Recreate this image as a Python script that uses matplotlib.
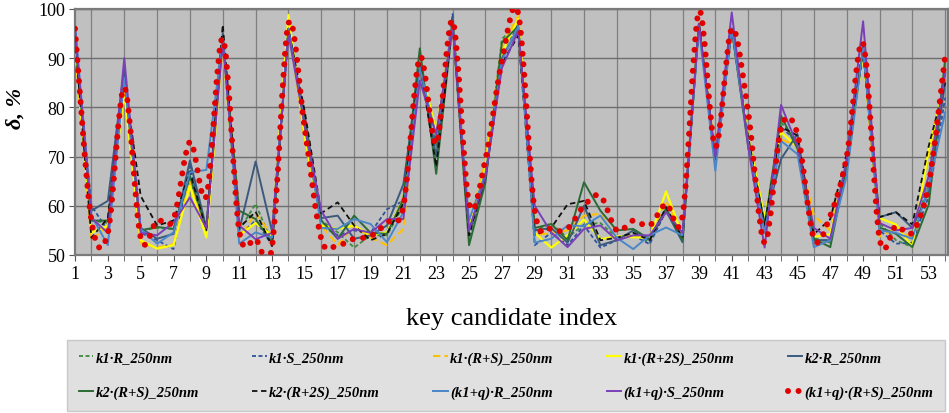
import numpy as np
import matplotlib
matplotlib.use("Agg")
import matplotlib.pyplot as plt
from matplotlib.path import Path
from matplotlib.patches import PathPatch
from matplotlib.lines import Line2D

plt.rcParams['font.family'] = ['Liberation Serif', 'DejaVu Serif']

idx = list(range(1, 55))
y_ticks = [50, 60, 70, 80, 90, 100]
x_tick_labels = list(range(1, 54, 2))

labels = ["k1·R_250nm", "k1·S_250nm", "k1·(R+S)_250nm", "k1·(R+2S)_250nm", "k2·R_250nm",
          "k2·(R+S)_250nm", "k2·(R+2S)_250nm", "(k1+q)·R_250nm", "(k1+q)·S_250nm",
          "(k1+q)·(R+S)_250nm"]

k1_R = [94, 57, 56.5, 86, 55, 55.5, 55.3, 65.5, 55, 93, 55, 60.4, 52.5, 96, 76, 57, 54.6, 51.5, 54, 54,
        60, 89, 72, 97, 53, 66, 93.9, 97, 55, 56.4, 53.5, 56.2, 56.5, 53.5, 54.5, 52.5, 59, 53.5, 97, 69.5,
        96, 73, 55, 77, 73, 53.5, 52.5, 68.5, 92, 56.5, 53, 51.6, 66, 88]
k1_S = [95, 60, 55, 86, 54.5, 53, 51.2, 68, 55, 94, 54, 57, 52, 96, 76, 56, 54, 55, 54.5, 59.3,
        61, 88, 73, 99, 54, 67, 91, 97, 52, 54.5, 52, 56, 51.5, 53, 54, 52.2, 59, 53, 97, 69.5,
        96, 73, 55, 76, 73, 53, 53, 68.5, 93, 55, 52.3, 52.5, 62, 82]
k1_RS = [92, 53, 56, 84, 52.5, 51.5, 52.2, 65, 54.5, 93, 53.5, 58.5, 54, 97, 73, 56, 52, 56, 53.5, 52,
         55.3, 89, 74, 97, 56, 69, 92.6, 98.6, 54, 54.5, 55, 58, 58.4, 53.3, 54, 53.5, 61, 54, 97, 70,
         96, 74, 57, 73.5, 72.2, 58, 55, 68.5, 91, 53.7, 55.5, 53.3, 70, 86]
k1_R2S = [93, 54.5, 56, 83, 53, 51.3, 52, 64, 53.6, 93, 54, 56.5, 54, 98.8, 74, 56, 55.3, 56, 54, 54.6,
          61.4, 89, 75, 97, 56, 67.5, 91, 98, 54.5, 51.5, 54, 57.2, 53.2, 53.8, 53.6, 53.5, 62.9, 54, 97, 70,
          96, 74, 57.5, 75, 71.9, 53.7, 54.2, 68.5, 91, 57.5, 56.2, 51.6, 71.5, 85]
k2_R = [95, 59, 61, 88, 55.5, 53.3, 54.3, 69.2, 55.5, 95, 55, 69, 54.8, 95.5, 78, 57.5, 58, 53.3, 54, 56,
        64.4, 88.5, 70, 98, 55, 65.5, 90, 96, 55, 55.5, 52.5, 60, 52, 53, 55, 53, 59, 52.6, 97, 69.5,
        96, 73, 56.5, 69.5, 74.6, 53, 53, 68, 92, 57.7, 58.7, 55.5, 63, 85]
k2_RS = [94, 57, 57, 86, 55, 55.7, 55.3, 66, 55.5, 94, 59, 57.3, 52.5, 96, 77, 57, 53.3, 58, 54.5, 54.3,
         61.4, 92, 66.5, 97, 52, 64.8, 93.2, 96.5, 55.5, 56.3, 53, 64.8, 59, 55, 55.3, 53.2, 59.5, 53, 97, 69.5,
         96, 72, 56, 78.3, 71.6, 53.3, 51.6, 68, 92, 55.6, 54.3, 51.6, 60.3, 89.8]
k2_R2S = [94, 53.5, 57.5, 86, 62, 56, 57, 67, 55, 96.8, 55.5, 58.8, 51.8, 96, 79, 58.5, 60.7, 56, 53, 54.3,
          60.5, 89, 68, 97, 54, 66, 89, 94.6, 54, 55.5, 60.3, 61, 53, 53.5, 54.5, 53, 59.7, 53.5, 97, 69.5,
          96, 74, 56, 76, 74.3, 54.2, 57.3, 70.5, 91, 57.7, 58.7, 56.2, 72.2, 85]
k1q_R = [97, 58, 52, 86, 55.3, 52.3, 54.6, 66.8, 67.3, 94, 52.3, 54.6, 53.5, 96, 76, 55.5, 55.3, 57.3, 56.3, 52.6,
         58.7, 88, 74, 97, 57, 66.7, 89.5, 96.5, 52.5, 53.3, 56, 55.9, 58, 53.5, 51.2, 54, 55.6, 54, 96, 67.1,
         96, 73, 54.5, 73.2, 70.5, 51.6, 53, 66.1, 92, 55, 54.5, 53.3, 64, 79]
k1q_S = [96, 57.5, 54.5, 90, 54.5, 54, 56.6, 61.7, 55.5, 93, 56, 53.2, 54.5, 95, 76, 59, 53.3, 55.3, 54.5, 57.3,
         57.3, 85.4, 74.6, 96.5, 55, 66, 88, 95.6, 60, 54.6, 51.6, 55.3, 56, 53, 54, 54, 58.7, 54.5, 97, 70,
         99.3, 72, 51.5, 80.5, 72.2, 55.5, 53.3, 69.5, 97.5, 56.5, 55, 55.5, 66, 87]
k1q_RS = [96, 57, 54.5, 84, 53.5, 57, 57.3, 73, 62, 94, 55, 53.2, 51.7, 97, 75.5, 53.3, 52, 53.3, 53.8, 56.6,
          60, 90.2, 72.6, 97.6, 60.5, 69.5, 89.5, 99, 59, 55.3, 55.4, 60, 62, 55, 57, 56, 60.4, 58, 99.5, 72,
          96, 79, 52.5, 75.8, 74.6, 53.4, 58, 70, 93, 53.4, 55.9, 54.6, 64.5, 90.5]

series = [k1_R, k1_S, k1_RS, k1_R2S, k2_R, k2_RS, k2_R2S, k1q_R, k1q_S]
styles = [
    dict(color='#3d8a3d', ls=(0, (2.2, 1.4)), lw=1.3),
    dict(color='#2f52a0', ls=(0, (2.2, 1.4)), lw=1.3),
    dict(color='#ffc000', ls=(0, (3.5, 2)), lw=1.5),
    dict(color='#ffff00', ls='-', lw=1.6),
    dict(color='#3b5a7c', ls='-', lw=1.4),
    dict(color='#2b6a35', ls='-', lw=1.4),
    dict(color='#111111', ls=(0, (3, 2)), lw=1.3),
    dict(color='#4a86c8', ls='-', lw=1.4),
    dict(color='#7b3fb8', ls='-', lw=1.4),
]
red_style = dict(color='#e00000', lw=4.3, ls=(0, (0.01, 1.75)))

fig = plt.figure(figsize=(9.49, 4.14), dpi=100)
ax = fig.add_axes([75/949, 1-256/414, (948-75)/949, (256-10)/414])
ax.set_facecolor('#c0c0c0')

handles = []
for s, st, lab in zip(series, styles, labels):
    h, = ax.plot(idx, s, color=st['color'], linestyle=st['ls'], linewidth=st['lw'], label=lab, zorder=3)
    handles.append(h)

# smoothed red series (Excel-like smoothing via Bezier segments)
x = np.array(idx, dtype=float)
y = np.array(k1q_RS, dtype=float)
n = len(x)
verts = [(x[0], y[0])]
codes = [Path.MOVETO]
for i in range(n - 1):
    xp, yp = (x[i-1], y[i-1]) if i > 0 else (x[i], y[i])
    xn, yn = (x[i+2], y[i+2]) if i + 2 < n else (x[i+1], y[i+1])
    c1 = (x[i] + (x[i+1] - xp) / 6, y[i] + (y[i+1] - yp) / 6)
    c2 = (x[i+1] - (xn - x[i]) / 6, y[i+1] - (yn - y[i]) / 6)
    verts += [c1, c2, (x[i+1], y[i+1])]
    codes += [Path.CURVE4] * 3
patch = PathPatch(Path(verts, codes), fill=False, edgecolor=red_style['color'],
                  linewidth=red_style['lw'], linestyle=red_style['ls'], capstyle='round', zorder=4)
ax.add_patch(patch)
red_handle = Line2D([], [], color=red_style['color'], lw=red_style['lw'], ls=red_style['ls'],
                    dash_capstyle='round', solid_capstyle='round')
handles.append(red_handle)

ax.set_xlim(1, 54.17)
ax.set_ylim(50, 100)
ax.set_yticks(y_ticks)
ax.set_xticks(x_tick_labels)
ax.set_xticks(idx, minor=True)
ax.tick_params(axis='both', which='major', labelsize=13, direction='out', length=4, color='#555555', pad=3)
ax.tick_params(axis='x', which='minor', direction='out', length=4, color='#555555')
ax.grid(True, axis='x', which='minor', color='#808080', lw=0.9)
ax.grid(True, axis='y', which='major', color='#6e6e6e', lw=1.0)
for sp in ax.spines.values():
    sp.set_color('#7a7a7a')
    sp.set_linewidth(1.6)

ax.set_ylabel('δ, %', fontsize=16, fontweight='bold', fontstyle='italic')
ax.yaxis.set_label_coords(-0.057, 0.6)
ax.set_xlabel('key candidate index', fontsize=19, labelpad=18)

order = [0, 5, 1, 6, 2, 7, 3, 8, 4, 9]
leg = fig.legend([handles[i] for i in order], [labels[i] for i in order],
                 loc='lower left', bbox_to_anchor=(67/949, 2/414, 878/949, 65/414),
                 mode='expand', ncol=5, frameon=True, fancybox=False,
                 prop=dict(family='Liberation Serif', size=10.5, weight='bold', style='italic'),
                 handlelength=1.0, handletextpad=0.15, borderaxespad=0, borderpad=0.8,
                 labelspacing=1.45)
leg.get_frame().set_facecolor('#d9d9d9')
leg.get_frame().set_edgecolor('#bfbfbf')
leg.get_frame().set_linewidth(1.0)

fig.savefig('out.png', dpi=100)
